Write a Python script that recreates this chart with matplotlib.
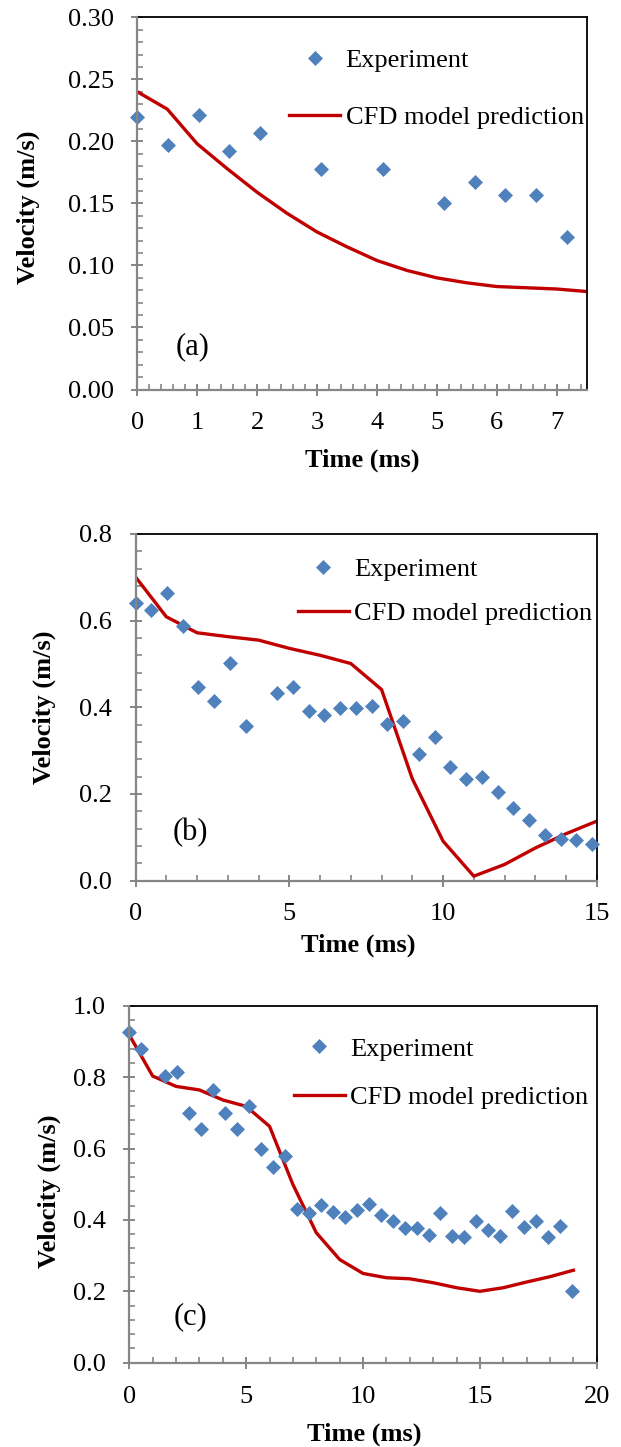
import matplotlib
matplotlib.use('Agg')
import matplotlib.pyplot as plt
from matplotlib.ticker import MultipleLocator, FormatStrFormatter

plt.rcParams['font.family'] = ['Liberation Serif', 'DejaVu Serif']

# ---------------- data ----------------
# panel (a)
a_exp_t = [0.0, 0.512, 1.024, 1.536, 2.048, 3.072, 4.096, 5.12, 5.632, 6.144, 6.656, 7.168]
a_exp_v = [0.220, 0.197, 0.221, 0.192, 0.207, 0.178, 0.178, 0.150, 0.167, 0.157, 0.157, 0.123]
a_cfd_t = [0.0, 0.5, 1.0, 1.5, 2.0, 2.5, 3.0, 3.5, 4.0, 4.5, 5.0, 5.5, 6.0, 6.5, 7.0, 7.5]
a_cfd_v = [0.240, 0.226, 0.198, 0.178, 0.159, 0.142, 0.127, 0.115, 0.104, 0.096, 0.090, 0.086,
           0.083, 0.082, 0.081, 0.079]

# panel (b)
b_exp_t = [0.0, 0.512, 1.024, 1.536, 2.048, 2.56, 3.072, 3.584, 4.608, 5.12, 5.632, 6.144,
           6.656, 7.168, 7.68, 8.192, 8.704, 9.216, 9.728, 10.24, 10.752, 11.264, 11.776,
           12.288, 12.8, 13.312, 13.824, 14.336, 14.848]
b_exp_v = [0.640, 0.624, 0.664, 0.588, 0.446, 0.414, 0.503, 0.356, 0.434, 0.446, 0.392, 0.382,
           0.399, 0.399, 0.403, 0.361, 0.368, 0.293, 0.331, 0.262, 0.235, 0.239, 0.204,
           0.167, 0.140, 0.104, 0.096, 0.093, 0.085]
b_cfd_t = [0, 1, 2, 3, 4, 5, 6, 7, 8, 9, 10, 11, 12, 13, 14, 15]
b_cfd_v = [0.701, 0.609, 0.572, 0.563, 0.555, 0.536, 0.520, 0.501, 0.441, 0.235, 0.091, 0.010,
           0.037, 0.075, 0.108, 0.137]

# panel (c)
c_exp_t = [0.0, 0.512, 1.536, 2.048, 2.56, 3.072, 3.584, 4.096, 4.608, 5.12, 5.632, 6.144,
           6.656, 7.168, 7.68, 8.192, 8.704, 9.216, 9.728, 10.24, 10.752, 11.264, 11.776,
           12.288, 12.8, 13.312, 13.824, 14.336, 14.848, 15.36, 15.872, 16.384, 16.896,
           17.408, 17.92, 18.432, 18.944]
c_exp_v = [0.927, 0.878, 0.802, 0.814, 0.699, 0.654, 0.764, 0.699, 0.656, 0.720, 0.598, 0.548,
           0.580, 0.431, 0.419, 0.441, 0.422, 0.407, 0.429, 0.445, 0.415, 0.396, 0.377,
           0.377, 0.359, 0.418, 0.354, 0.351, 0.396, 0.373, 0.354, 0.424, 0.379,
           0.396, 0.351, 0.384, 0.200]
c_cfd_t = [0, 1, 2, 3, 4, 5, 6, 7, 8, 9, 10, 11, 12, 13, 14, 15, 16, 17, 18, 19]
c_cfd_v = [0.918, 0.803, 0.774, 0.764, 0.736, 0.718, 0.662, 0.499, 0.364, 0.289, 0.250, 0.238,
           0.235, 0.224, 0.210, 0.200, 0.210, 0.226, 0.241, 0.259]

panel_names = ['(a)', '(b)', '(c)']
legend_labels = ['Experiment', 'CFD model prediction']
xlabel_text = 'Time (ms)'
ylabel_text = 'Velocity (m/s)'

# ---------------- layout ----------------
W, H = 621, 1447
FS = 19
BLUE = '#4F81BD'
RED = '#C00000'
GRAY = '#868686'

fig = plt.figure(figsize=(W / 100, H / 100), dpi=100)

# (left, right, top, bottom) in pixels
rects = [(137.3, 586.5, 17.3, 389.5),
         (135.5, 596.8, 534.0, 880.5),
         (129.3, 596.8, 1005.7, 1362.7)]
xlims = [(0, 7.5), (0, 15), (0, 20)]
ylims = [(0, 0.30), (0, 0.8), (0, 1.0)]
xmaj = [1, 5, 5]
xmin = [0.2, 1, 1]
ymaj = [0.05, 0.2, 0.2]
ymin = [0.01, 0.04, 0.04]
yfmt = ['%.2f', '%.1f', '%.1f']
# legend: handle-left x, centre y, labelspacing
legpos = [(288.9, 89.0, 1.28), (297.6, 591.5, 0.76), (293.6, 1073.0, 0.94)]
panelpos = [(193, 347), (190, 833), (190, 1317)]
ylabpos = [(28.5, 207), (44.3, 707), (49.5, 1191)]
xlabpos = [(362, 460), (358, 945), (364, 1434)]

data = [(a_exp_t, a_exp_v, a_cfd_t, a_cfd_v),
        (b_exp_t, b_exp_v, b_cfd_t, b_cfd_v),
        (c_exp_t, c_exp_v, c_cfd_t, c_cfd_v)]

for i in range(3):
    l, r, t, b = rects[i]
    ax = fig.add_axes([l / W, 1 - b / H, (r - l) / W, (b - t) / H])
    et, ev, ct, cv = data[i]
    ln, = ax.plot(ct, cv, color=RED, lw=2.4, zorder=2, label=legend_labels[1])
    mk, = ax.plot(et, ev, ls='none', marker='D', ms=7.6, color=BLUE, mec=BLUE, mew=0.5,
                  zorder=3, clip_on=False, label=legend_labels[0])
    ax.set_xlim(*xlims[i])
    ax.set_ylim(*ylims[i])
    ax.xaxis.set_major_locator(MultipleLocator(xmaj[i]))
    ax.xaxis.set_minor_locator(MultipleLocator(xmin[i]))
    ax.yaxis.set_major_locator(MultipleLocator(ymaj[i]))
    ax.yaxis.set_minor_locator(MultipleLocator(ymin[i]))
    ax.yaxis.set_major_formatter(FormatStrFormatter(yfmt[i]))
    ax.xaxis.set_major_formatter(FormatStrFormatter('%d'))

    for s in ['left', 'bottom']:
        ax.spines[s].set_color(GRAY)
        ax.spines[s].set_linewidth(1.6)
        ax.spines[s].set_zorder(4)
    for s in ['top', 'right']:
        ax.spines[s].set_color('black')
        ax.spines[s].set_linewidth(1.3)

    ax.tick_params(which='major', direction='inout', length=9, width=1.4, color=GRAY,
                   labelsize=FS, labelcolor='black')
    ax.tick_params(which='minor', direction='in', length=4, width=1.2, color=GRAY)
    ax.tick_params(axis='x', which='major', pad=12)
    ax.tick_params(axis='y', which='major', pad=12.5)

    ax.set_xlabel(xlabel_text, fontsize=FS, fontweight='bold', va='center')
    ax.set_ylabel(ylabel_text, fontsize=FS, fontweight='bold', va='center')
    xx, xy = xlabpos[i]
    ax.xaxis.set_label_coords((xx - l) / (r - l), (b - xy) / (b - t))
    yx, yy = ylabpos[i]
    ax.yaxis.set_label_coords((yx - l) / (r - l), (b - yy) / (b - t))

    lx, ly, lsp = legpos[i]
    ax.legend(handles=[mk, ln], loc='center left',
              bbox_to_anchor=(lx / W, 1 - ly / H), bbox_transform=fig.transFigure,
              frameon=False, borderpad=0, borderaxespad=0, handlelength=1.95,
              handletextpad=0.2, labelspacing=lsp, fontsize=FS, numpoints=1)

    px, py = panelpos[i]
    fig.text(px / W, 1 - py / H, panel_names[i], ha='center', va='center', fontsize=22)

fig.savefig('out.png', dpi=100)
